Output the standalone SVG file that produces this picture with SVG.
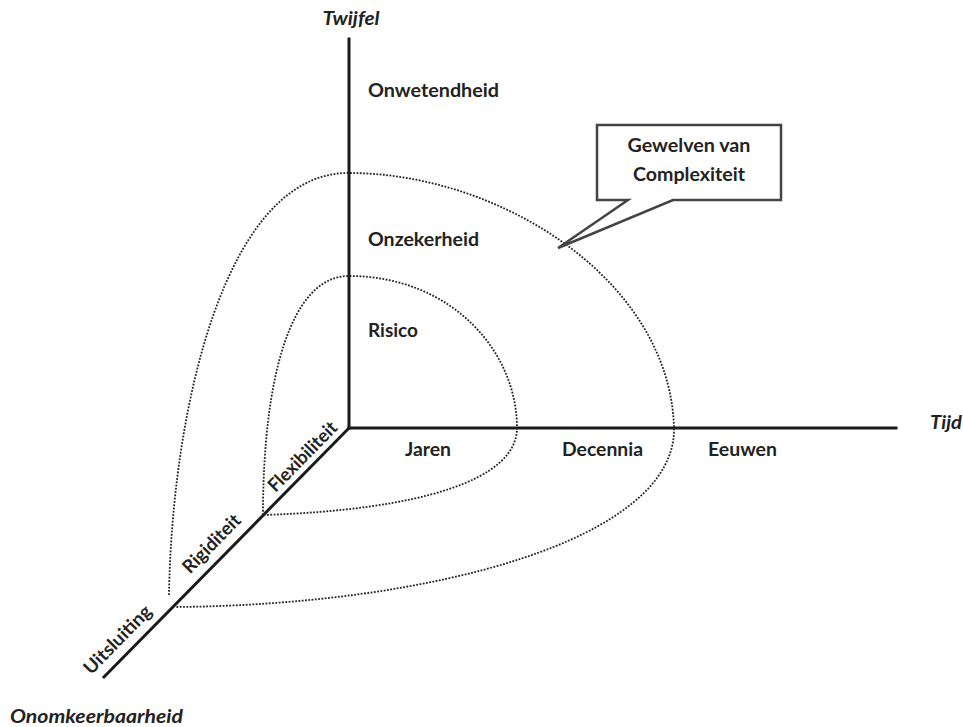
<svg xmlns="http://www.w3.org/2000/svg" width="963" height="727" viewBox="0 0 963 727">
<style>
.axis{stroke:#1a1a1a;stroke-width:3;fill:none;stroke-linecap:square}
.wave{stroke:#222;stroke-width:1.8;fill:none;stroke-dasharray:1.8 1.5}
.lbl{font-family:Lato,"Open Sans","Liberation Sans",sans-serif;font-weight:bold;font-size:18.5px;fill:#222}
.ax{font-family:Lato,"Open Sans","Liberation Sans",sans-serif;font-weight:bold;font-style:italic;font-size:18.5px;fill:#222}
.callout{fill:#fff;stroke:#444;stroke-width:2.5;stroke-linejoin:miter}
</style>
<rect width="963" height="727" fill="#fff"/>
<g id="connectors">
<line class="axis" x1="349" y1="39" x2="349" y2="428"/>
<line class="axis" x1="349" y1="428" x2="896" y2="428"/>
<line class="axis" x1="349" y1="428" x2="104" y2="677"/>
<path class="wave" d="M169,595 C172,410 225,172 349,173 C500,173 670,280 674,428 C676,540 430,605 175,607"/>
<path class="wave" d="M263,515 C263,380 290,276 349,276 C450,276 517,350 517,428 C517,480 420,510 263,515"/>
</g>
<g id="axis-twijfel"><text class="ax" x="351" y="25" text-anchor="middle" textLength="57" lengthAdjust="spacingAndGlyphs">Twijfel</text></g>
<g id="axis-tijd"><text class="ax" x="930" y="429" textLength="32" lengthAdjust="spacingAndGlyphs">Tijd</text></g>
<g id="axis-onomkeerbaarheid"><text class="ax" x="10" y="723" textLength="173" lengthAdjust="spacingAndGlyphs">Onomkeerbaarheid</text></g>
<g id="onwetendheid"><text class="lbl" x="368" y="97" textLength="131" lengthAdjust="spacingAndGlyphs">Onwetendheid</text></g>
<g id="onzekerheid"><text class="lbl" x="368" y="246" textLength="111" lengthAdjust="spacingAndGlyphs">Onzekerheid</text></g>
<g id="risico"><text class="lbl" x="368" y="337" textLength="50" lengthAdjust="spacingAndGlyphs">Risico</text></g>
<g id="jaren"><text class="lbl" x="405" y="456" textLength="46" lengthAdjust="spacingAndGlyphs">Jaren</text></g>
<g id="decennia"><text class="lbl" x="562" y="456" textLength="81" lengthAdjust="spacingAndGlyphs">Decennia</text></g>
<g id="eeuwen"><text class="lbl" x="708" y="456" textLength="69" lengthAdjust="spacingAndGlyphs">Eeuwen</text></g>
<g id="flexibiliteit"><text class="lbl" text-anchor="middle" textLength="90" lengthAdjust="spacingAndGlyphs" transform="translate(307,461) rotate(-45.5)">Flexibiliteit</text></g>
<g id="rigiditeit"><text class="lbl" text-anchor="middle" textLength="74" lengthAdjust="spacingAndGlyphs" transform="translate(216,548) rotate(-45.5)">Rigiditeit</text></g>
<g id="uitsluiting"><text class="lbl" text-anchor="middle" textLength="88" lengthAdjust="spacingAndGlyphs" transform="translate(122,644) rotate(-45.5)">Uitsluiting</text></g>
<g id="gewelven">
<path class="callout" d="M597,125 H781 V200 H673 L558,248 L628,200 H597 Z"/>
<text class="lbl" x="689" y="152" text-anchor="middle" textLength="123" lengthAdjust="spacingAndGlyphs">Gewelven van</text>
<text class="lbl" x="689" y="181" text-anchor="middle" textLength="112" lengthAdjust="spacingAndGlyphs">Complexiteit</text>
</g>
</svg>
